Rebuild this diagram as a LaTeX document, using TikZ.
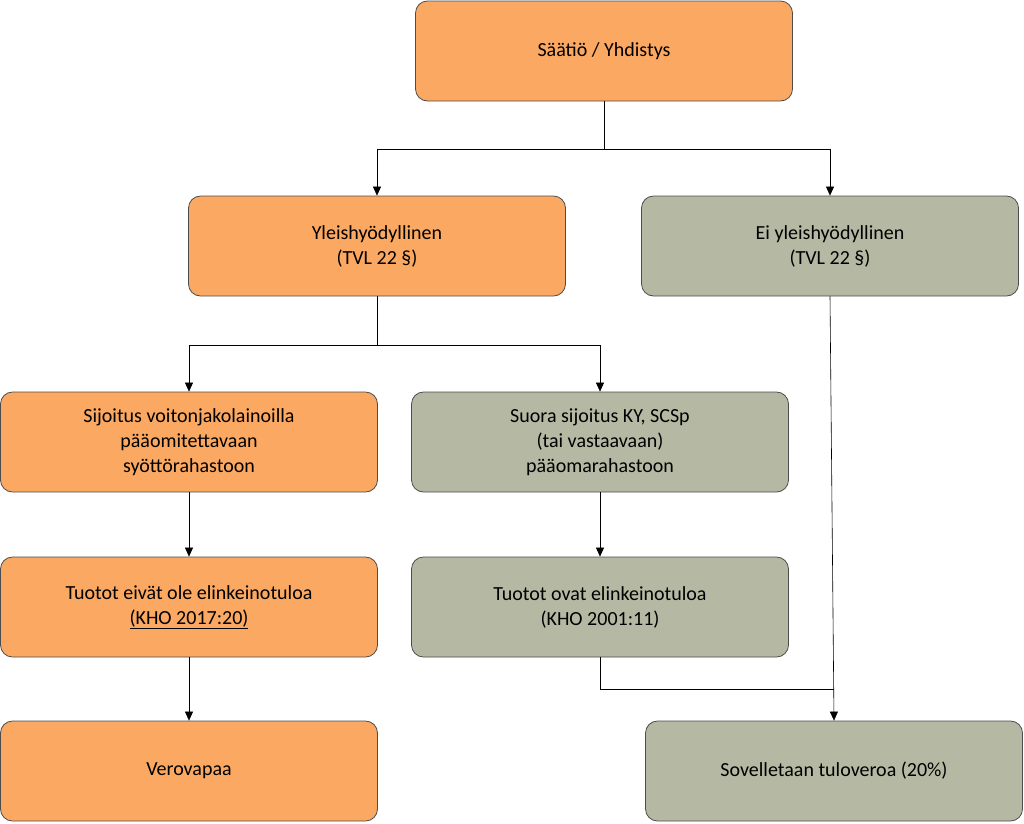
\documentclass[tikz,border=0pt]{standalone}
\usepackage{fontspec}
\setmainfont{Carlito}
\usetikzlibrary{arrows.meta}
\definecolor{org}{HTML}{FBA862}
\definecolor{grn}{HTML}{B5B8A2}
\begin{document}
\begin{tikzpicture}[x=1pt,y=-1pt,
 box/.style={draw=black!70,line width=0.8pt,rounded corners=12pt,minimum width=377pt,minimum height=100pt,align=center,font=\fontsize{20}{25}\selectfont,inner sep=2pt},
 o/.style={box,fill=org}, g/.style={box,fill=grn},
 ar/.style={-{Triangle[length=9pt,width=8pt]},line width=0.6pt}]
\useasboundingbox (0,0) rectangle (1024,823);
\node[o] (top) at (604,51) {Säätiö / Yhdistys};
\node[o] (yl) at (377,246) {Yleishyödyllinen\\(TVL 22 §)};
\node[g] (ei) at (830,246) {Ei yleishyödyllinen\\(TVL 22 §)};
\node[o] (sij) at (189,442) {Sijoitus voitonjakolainoilla\\pääomitettavaan\\syöttörahastoon};
\node[g] (suo) at (600,442) {Suora sijoitus KY, SCSp\\(tai vastaavaan)\\pääomarahastoon};
\node[o] (tue) at (189,607) {Tuotot eivät ole elinkeinotuloa\\\underline{(KHO 2017:20)}};
\node[g] (tuo) at (600,607) {Tuotot ovat elinkeinotuloa\\(KHO 2001:11)};
\node[o] (ver) at (189,771) {Verovapaa};
\node[g] (sov) at (834,771) {Sovelletaan tuloveroa (20\%)};
\coordinate (j1) at (604,149);
\coordinate (j2) at (377,345);
\coordinate (j3) at (834,689);
\draw[line width=0.6pt] (top.south) -- (j1);
\draw[ar] (j1) -| (yl.north);
\draw[ar] (j1) -| (ei.north);
\draw[line width=0.6pt] (yl.south) -- (j2);
\draw[ar] (j2) -| (sij.north);
\draw[ar] (j2) -| (suo.north);
\draw[ar] (sij) -- (tue);
\draw[ar] (suo) -- (tuo);
\draw[ar] (tue) -- (ver);
\draw[ar] (ei.south) -- (sov.north);
\draw[line width=0.6pt] (tuo.south) |- (j3);
\end{tikzpicture}
\end{document}
